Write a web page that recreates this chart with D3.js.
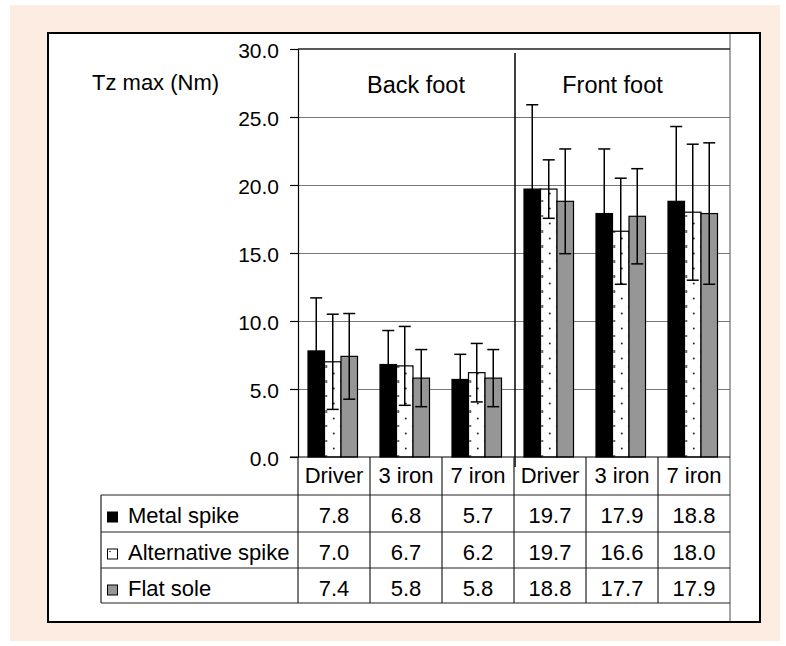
<!DOCTYPE html>
<html><head><meta charset="utf-8">
<script src="https://cdn.jsdelivr.net/npm/d3@7"></script>
<style>html,body{margin:0;padding:0;background:#fff;}svg{display:block;font-family:"Liberation Sans",Arial,sans-serif;}</style>
</head><body><div id="chart"></div>
<script>
const categories = ["Driver","3 iron","7 iron","Driver","3 iron","7 iron"];
const groups = ["Back foot","Front foot"];
const seriesNames = ["Metal spike","Alternative spike","Flat sole"];
const metalSpike = [7.8,6.8,5.7,19.7,17.9,18.8];
const altSpike = [7.0,6.7,6.2,19.7,16.6,18.0];
const flatSole = [7.4,5.8,5.8,18.8,17.7,17.9];
const metalSD = [3.9,2.5,1.85,6.2,4.75,5.5];
const altSD = [3.5,2.9,2.15,2.15,3.9,5.0];
const flatSD = [3.15,2.1,2.1,3.85,3.5,5.2];
const yTicks = [0,5,10,15,20,25,30];
const yLabel = "Tz max (Nm)";

const series = [
  {name: seriesNames[0], values: metalSpike, sd: metalSD},
  {name: seriesNames[1], values: altSpike, sd: altSD},
  {name: seriesNames[2], values: flatSole, sd: flatSD}
];

const W = 786, H = 646;
const svg = d3.select("#chart").append("svg").attr("width", W).attr("height", H);

// backgrounds
svg.append("rect").attr("x",10).attr("y",5).attr("width",770).attr("height",636).attr("fill","#fdece2");
svg.append("rect").attr("x",48).attr("y",33).attr("width",712).attr("height",589).attr("fill","#fff").attr("stroke","#000").attr("stroke-width",2);
svg.append("line").attr("x1",730).attr("x2",730).attr("y1",34).attr("y2",621).attr("stroke","#888").attr("stroke-width",1.5);

const y = d3.scaleLinear().domain([0,30]).range([457,49]);
const x = d3.scaleBand().domain(d3.range(categories.length)).range([298,730]);
const sub = d3.scaleBand().domain(d3.range(series.length)).range([0,49.5]);
const groupOffset = 10;

const defs = svg.append("defs");
categories.forEach((c,i) => {
  const bx = x(i) + groupOffset + sub(1);
  const p = defs.append("pattern").attr("id","dots"+i).attr("patternUnits","userSpaceOnUse")
    .attr("x", bx).attr("y", 457).attr("width", 15.2).attr("height", 15);
  p.append("rect").attr("width",15.2).attr("height",15).attr("fill","#fff");
  p.append("circle").attr("cx",1.7).attr("cy",14).attr("r",0.95).attr("fill","#222");
  p.append("circle").attr("cx",9.3).attr("cy",6.5).attr("r",0.95).attr("fill","#222");
});
const fills = ["#000", null, "#969696"];

// gridlines
const grid = svg.append("g").attr("transform","translate(298,0)")
  .call(d3.axisLeft(y).tickValues(yTicks.filter(t=>t>0 && t<30)).tickSize(-432).tickFormat(""));
grid.select(".domain").remove();
grid.selectAll("line").attr("stroke","#777").attr("stroke-width",1.2);

// y axis
const yAxis = svg.append("g").attr("transform","translate(298,0)")
  .call(d3.axisLeft(y).tickValues(yTicks).tickSize(8).tickPadding(11).tickFormat(d3.format(".1f")));
yAxis.attr("font-family","Liberation Sans, Arial, sans-serif");
yAxis.select(".domain").attr("stroke","#000").attr("stroke-width",1.2);
yAxis.selectAll("line").attr("stroke","#000").attr("stroke-width",1.2);
yAxis.selectAll("text").attr("font-size",21).attr("fill","#000").attr("dy","0.4em");
svg.append("line").attr("x1",298).attr("x2",730).attr("y1",y(30)).attr("y2",y(30)).attr("stroke","#222").attr("stroke-width",1.5);

// bars
series.forEach((s,si) => {
  svg.append("g").selectAll("rect").data(s.values).join("rect")
    .attr("x",(d,i)=>x(i)+groupOffset+sub(si))
    .attr("y",d=>y(d))
    .attr("width",sub.bandwidth())
    .attr("height",d=>y(0)-y(d))
    .attr("fill",(d,i)=> si===1 ? `url(#dots${i})` : fills[si])
    .attr("stroke","#000").attr("stroke-width",1.2);
});
// error bars
series.forEach((s,si) => {
  const g = svg.append("g").attr("stroke","#000").attr("stroke-width",1.5);
  s.values.forEach((v,i) => {
    const cx = x(i)+groupOffset+sub(si)+sub.bandwidth()/2;
    const hi = y(v + s.sd[i]), lo = y(v - s.sd[i]);
    g.append("line").attr("x1",cx).attr("x2",cx).attr("y1",hi).attr("y2",lo);
    g.append("line").attr("x1",cx-6).attr("x2",cx+6).attr("y1",hi).attr("y2",hi);
    g.append("line").attr("x1",cx-6).attr("x2",cx+6).attr("y1",lo).attr("y2",lo);
  });
});

svg.append("line").attr("x1",290).attr("x2",730).attr("y1",y(0)).attr("y2",y(0)).attr("stroke","#000").attr("stroke-width",1.2);
svg.append("line").attr("x1",x(3)+1).attr("x2",x(3)+1).attr("y1",53).attr("y2",467).attr("stroke","#000").attr("stroke-width",1.5);

const groupCenters = [416, 612.5];
groups.forEach((gname,gi) => {
  svg.append("text").attr("x",groupCenters[gi]).attr("y",92.5).attr("text-anchor","middle")
    .attr("font-size",23.5).text(gname);
});
svg.append("text").attr("x",92).attr("y",90).attr("font-size",22).text(yLabel);

// data table
const rowTops = [495, 532, 568, 603];
const tbl = svg.append("g").attr("stroke","#222").attr("stroke-width",1.2);
rowTops.forEach(r => tbl.append("line").attr("x1",101).attr("x2",730).attr("y1",r).attr("y2",r));
tbl.append("line").attr("x1",101).attr("x2",101).attr("y1",495).attr("y2",603);
d3.range(categories.length).forEach(i => {
  tbl.append("line").attr("x1",x(i)).attr("x2",x(i)).attr("y1",457).attr("y2",603);
});

svg.append("g").selectAll("text").data(categories).join("text")
  .attr("x",(d,i)=>x(i)+x.bandwidth()/2).attr("y",483).attr("text-anchor","middle")
  .attr("font-size",22).text(d=>d);

series.forEach((s,si) => {
  const top = rowTops[si];
  svg.append("g").selectAll("text").data(s.values).join("text")
    .attr("x",(d,i)=>x(i)+x.bandwidth()/2).attr("y",top+27.5).attr("text-anchor","middle")
    .attr("font-size",22).text(d=>d3.format(".1f")(d));
  svg.append("text").attr("x",128).attr("y",top+27.5).attr("font-size",22).text(s.name);
  svg.append("rect").attr("x",107.5).attr("y",top+17).attr("width",10).attr("height",10)
    .attr("fill", si===1 ? "#fff" : fills[si]).attr("stroke","#000").attr("stroke-width",1);
  if (si===1) svg.append("circle").attr("cx",110).attr("cy",top+19.5).attr("r",0.8).attr("fill","#222");
});
</script></body></html>
